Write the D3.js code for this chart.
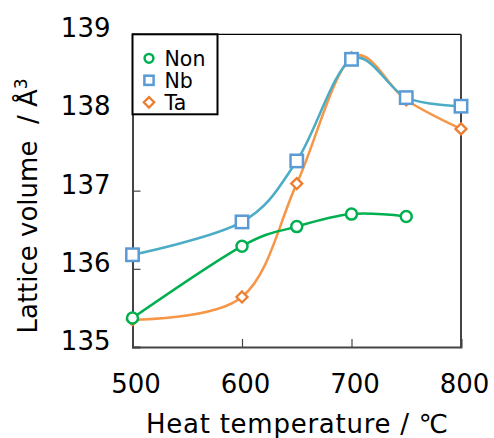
<!DOCTYPE html>
<html>
<head>
<meta charset="utf-8">
<script src="https://cdn.jsdelivr.net/npm/d3@7"></script>
<style>
  body { margin: 0; background: #fff; }
  text { font-family: "DejaVu Sans", Verdana, sans-serif; fill: #000; }
</style>
</head>
<body>
<div id="chart"></div>
<script>
var temps = [500, 600, 650, 700, 750, 800];
var nonTemps = [500, 600, 650, 700, 750];
var nonVals = [135.37, 136.29, 136.54, 136.70, 136.67];
var nbVals = [136.18, 136.60, 137.38, 138.68, 138.19, 138.08];
var taVals = [135.35, 135.64, 137.09, 138.70, 138.16, 137.79];
var xTicks = [500, 600, 700, 800];
var yTicks = [135, 136, 137, 138, 139];

var pic_width = 494, pic_height = 438;
var margin = { top: 34.3, right: 33, bottom: 91, left: 132.5 };
var width = pic_width - margin.left - margin.right,
    height = pic_height - margin.top - margin.bottom;

var xScale = d3.scaleLinear().domain([500, 800]).range([0, width]);
var yScale = d3.scaleLinear().domain([135, 139]).range([height, 0]);

var svg = d3.select('#chart').append('svg')
    .attr('width', pic_width)
    .attr('height', pic_height);

var g = svg.append('g')
    .attr('transform', 'translate(' + margin.left + ',' + margin.top + ')');

// frame: top thin black, right gray
g.append('line').attr('x1', 0).attr('x2', width).attr('y1', 0).attr('y2', 0)
    .attr('stroke', '#000').attr('stroke-width', 1.2);
g.append('line').attr('x1', width).attr('x2', width).attr('y1', 0).attr('y2', height)
    .attr('stroke', '#444').attr('stroke-width', 2);

// axes with inward ticks
var xAxis = d3.axisTop(xScale).tickValues(xTicks).tickSize(8).tickFormat('');
g.append('g').attr('transform', 'translate(0,' + height + ')').call(xAxis)
    .call(function(s) {
        s.select('.domain').attr('stroke', '#444').attr('stroke-width', 2);
        s.selectAll('.tick line').attr('stroke', '#444').attr('stroke-width', 1.2);
    });
var yAxis = d3.axisRight(yScale).tickValues(yTicks).tickSize(8).tickFormat('');
g.append('g').call(yAxis)
    .call(function(s) {
        s.select('.domain').attr('stroke', '#444').attr('stroke-width', 2);
        s.selectAll('.tick line').attr('stroke', '#444').attr('stroke-width', 1.2);
    });

// tick labels
g.selectAll('.xlab').data(xTicks).enter().append('text')
    .attr('x', function(d) { return xScale(d) + 3.5; })
    .attr('y', height + 46)
    .attr('text-anchor', 'middle')
    .style('font-size', '26px')
    .text(function(d) { return d; });
g.selectAll('.ylab').data(yTicks).enter().append('text')
    .attr('x', -22)
    .attr('y', function(d) { return yScale(d) + 3; })
    .attr('text-anchor', 'end')
    .style('font-size', '26px')
    .text(function(d) { return d; });

// axis titles
svg.append('text')
    .attr('x', 297).attr('y', 433)
    .attr('text-anchor', 'middle')
    .attr('textLength', 302)
    .attr('lengthAdjust', 'spacing')
    .style('font-size', '26px')
    .text('Heat temperature / ℃');
var yt = svg.append('text')
    .attr('transform', 'translate(37,206) rotate(-90)')
    .attr('text-anchor', 'middle')
    .style('font-size', '26px');
yt.append('tspan').text('Lattice volume\u00a0 / Å');
yt.append('tspan').attr('dy', -10).style('font-size', '17px').text('3');

var line = d3.line()
    .x(function(d) { return xScale(d[0]); })
    .y(function(d) { return yScale(d[1]); })
    .curve(d3.curveCardinal.tension(0));

var series = [
    { name: 'Ta', x: temps, v: taVals, line: '#F79646', mark: '#ED7D31', shape: 'diamond' },
    { name: 'Nb', x: temps, v: nbVals, line: '#4BACC6', mark: '#5B9BD5', shape: 'square' },
    { name: 'Non', x: nonTemps, v: nonVals, line: '#00B050', mark: '#00B050', shape: 'circle' }
];

series.forEach(function(s) {
    var pts = s.x.map(function(t, i) { return [t, s.v[i]]; });
    g.append('path').datum(pts)
        .attr('d', line)
        .attr('fill', 'none')
        .attr('stroke', s.line)
        .attr('stroke-width', 2.5);
});

function drawMarker(sel, shape, color, big) {
    if (shape === 'circle') {
        sel.append('circle').attr('r', big ? 5.5 : 4.4)
            .attr('fill', '#fff').attr('stroke', color).attr('stroke-width', big ? 2.5 : 2.5);
    } else if (shape === 'square') {
        var h = big ? 6.2 : 4.6;
        sel.append('rect').attr('x', -h).attr('y', -h).attr('width', 2 * h).attr('height', 2 * h)
            .attr('fill', '#fff').attr('stroke', color).attr('stroke-width', big ? 2.5 : 2.5);
    } else {
        var d = big ? 5.5 : 5.2;
        sel.append('path').attr('d', 'M0,' + (-d) + 'L' + d + ',0L0,' + d + 'L' + (-d) + ',0Z')
            .attr('fill', '#fff').attr('stroke', color).attr('stroke-width', 2.3);
    }
}

series.forEach(function(s) {
    s.x.forEach(function(t, i) {
        var m = g.append('g').attr('transform', 'translate(' + xScale(t) + ',' + yScale(s.v[i]) + ')');
        drawMarker(m, s.shape, s.mark, true);
    });
});

// legend
var legendItems = [
    { name: 'Non', shape: 'circle', color: '#00B050' },
    { name: 'Nb', shape: 'square', color: '#5B9BD5' },
    { name: 'Ta', shape: 'diamond', color: '#ED7D31' }
];
var lg = g.append('g');
lg.append('rect').attr('x', 0).attr('y', 0).attr('width', 85).attr('height', 80)
    .attr('fill', '#fff').attr('stroke', '#000').attr('stroke-width', 2);
legendItems.forEach(function(it, i) {
    var cy = 24 + i * 22;
    var m = lg.append('g').attr('transform', 'translate(16.5,' + cy + ')');
    drawMarker(m, it.shape, it.color, false);
    lg.append('text').attr('x', 32).attr('y', cy + 7.5)
        .style('font-size', '20.5px').text(it.name);
});
</script>
</body>
</html>
